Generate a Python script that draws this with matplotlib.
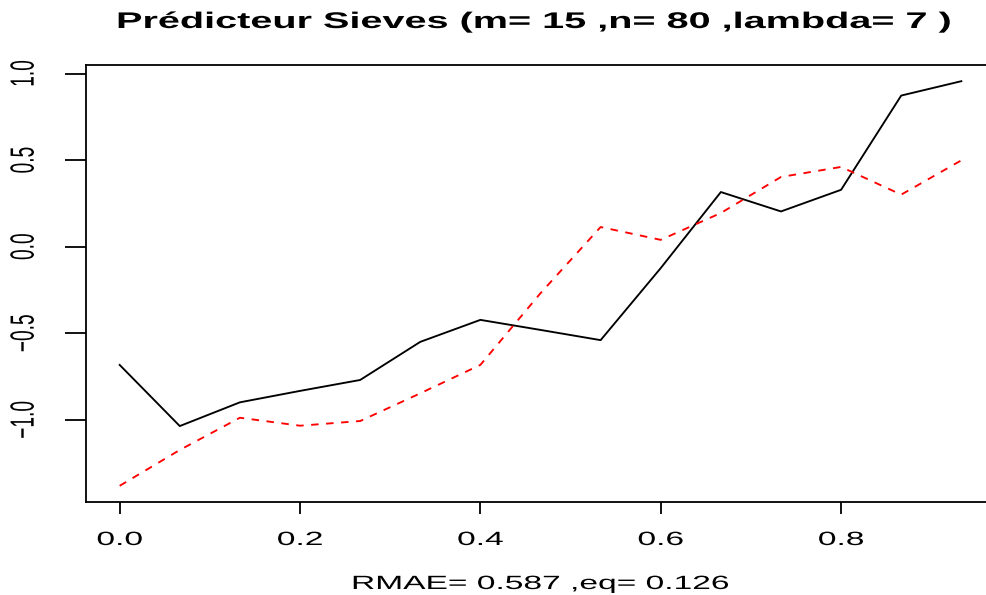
import numpy as np
import matplotlib
matplotlib.use("Agg")
import matplotlib.pyplot as plt
from matplotlib.patheffects import AbstractPathEffect
from matplotlib.transforms import Affine2D

plt.rcParams['font.family'] = ['Liberation Sans', 'DejaVu Sans']

m = 15
x_vals = [i / m for i in range(m)]
true_vals = [-0.682, -1.035, -0.898, -0.832, -0.769, -0.549, -0.422, -0.480,
             -0.539, -0.123, 0.316, 0.204, 0.329, 0.873, 0.956]
pred_vals = [-1.380, -1.173, -0.987, -1.033, -1.006, -0.846, -0.682, -0.268,
             0.114, 0.040, 0.195, 0.403, 0.461, 0.301, 0.499]
x_ticks = [0.0, 0.2, 0.4, 0.6, 0.8]
y_ticks = [-1.0, -0.5, 0.0, 0.5, 1.0]
title = "Prédicteur Sieves (m= 15 ,n= 80 ,lambda= 7 )"
xlabel = "RMAE= 0.587 ,eq= 0.126"


class HStretch(AbstractPathEffect):
    """Stretch rendered text horizontally (display x) about its centre."""
    def __init__(self, sx):
        super().__init__()
        self.sx = sx

    def draw_path(self, renderer, gc, tpath, affine, rgbFace=None):
        ext = tpath.get_extents(affine)
        cx = (ext.x0 + ext.x1) / 2
        aff = affine + Affine2D().translate(-cx, 0).scale(self.sx, 1).translate(cx, 0)
        renderer.draw_path(gc, tpath, aff, rgbFace)


SX = 1.75
stretch = [HStretch(SX)]

W, H = 986, 595
fig = plt.figure(figsize=(W / 100, H / 100), dpi=100)
left, right, bottom, top = 86, 995, 502, 65
ax = fig.add_axes([left / W, (H - bottom) / H, (right - left) / W, (bottom - top) / H])

ax.plot(x_vals, true_vals, color='black', lw=1.35)
ax.plot(x_vals, pred_vals, color='red', lw=1.35, dashes=(4, 4))

xr = max(x_vals) - min(x_vals)
ax.set_xlim(min(x_vals) - 0.04 * xr, max(x_vals) + 0.04 * xr)
ally = true_vals + pred_vals
yr = max(ally) - min(ally)
ax.set_ylim(min(ally) - 0.04 * yr, max(ally) + 0.04 * yr)

ax.set_xticks(x_ticks)
ax.set_xticklabels([f"{v:.1f}" for v in x_ticks])
ax.set_yticks(y_ticks)
ax.set_yticklabels([f"{v:.1f}".replace("-", "\u2212") for v in y_ticks],
                   rotation=90, va='center', ha='center')

for s in ax.spines.values():
    s.set_linewidth(1.3)
ax.tick_params(axis='x', direction='out', length=8.6, width=1.3, labelsize=13.8, pad=13)
ax.tick_params(axis='y', direction='out', length=15, width=1.3, labelsize=13.8, pad=29.5)

for lab in ax.get_xticklabels() + ax.get_yticklabels():
    lab.set_path_effects(stretch)

t = fig.text(533.5 / W, 1 - 28 / H, title, ha='center', va='baseline',
             fontsize=16.3, fontweight='bold')
t.set_path_effects(stretch)
xl = fig.text(540.5 / W, 1 - 589 / H, xlabel, ha='center', va='baseline', fontsize=13.8)
xl.set_path_effects(stretch)

fig.savefig("out.png", dpi=100)
